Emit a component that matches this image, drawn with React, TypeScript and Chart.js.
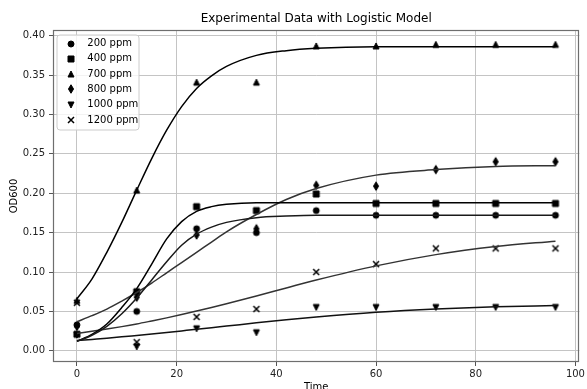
import React, { useEffect, useRef } from "react";
import { Chart, registerables } from "chart.js";

Chart.register(...registerables);

// ---- data ----
const times = [0, 12, 24, 36, 48, 60, 72, 84, 96];
const seriesLabels = ["200 ppm", "400 ppm", "700 ppm", "800 ppm", "1000 ppm", "1200 ppm"];

const od200 = [0.033, 0.05, 0.155, 0.15, 0.178, 0.172, 0.172, 0.172, 0.172];
const od400 = [0.021, 0.075, 0.183, 0.178, 0.199, 0.187, 0.187, 0.187, 0.187];
const od700 = [0.064, 0.204, 0.341, 0.341, 0.387, 0.387, 0.389, 0.389, 0.389];
const od800 = [0.031, 0.068, 0.147, 0.155, 0.21, 0.209, 0.23, 0.24, 0.24];
const od1000 = [0.02, 0.005, 0.028, 0.023, 0.055, 0.055, 0.055, 0.055, 0.055];
const od1200 = [0.061, 0.011, 0.043, 0.053, 0.1, 0.11, 0.13, 0.13, 0.13];

// logistic model curves
const curveTimes = [0, 3, 6, 9, 12, 15, 18, 21, 24, 27, 30, 36, 42, 48, 60, 72, 84, 96];
const fit200 = [0.012, 0.0196, 0.031, 0.047, 0.067, 0.09, 0.113, 0.134, 0.148, 0.157, 0.163, 0.169, 0.171, 0.172, 0.172, 0.172, 0.172, 0.172];
const fit400 = [0.012, 0.0208, 0.034, 0.055, 0.079, 0.11, 0.142, 0.164, 0.177, 0.183, 0.186, 0.188, 0.188, 0.188, 0.188, 0.188, 0.188, 0.188];
const fit700 = [0.066, 0.091, 0.125, 0.163, 0.204, 0.244, 0.28, 0.31, 0.333, 0.349, 0.361, 0.375, 0.381, 0.384, 0.386, 0.386, 0.386, 0.386];
const fit800 = [0.037, 0.0446, 0.053, 0.0631, 0.074, 0.086, 0.099, 0.112, 0.125, 0.138, 0.151, 0.173, 0.192, 0.206, 0.223, 0.23, 0.234, 0.235];
const fit1000 = [0.013, 0.0145, 0.016, 0.0177, 0.0195, 0.0213, 0.0233, 0.0253, 0.0273, 0.0294, 0.0314, 0.0355, 0.0394, 0.0429, 0.0488, 0.053, 0.0558, 0.0575];
const fit1200 = [0.022, 0.0247, 0.0276, 0.0307, 0.0341, 0.0379, 0.0418, 0.046, 0.0504, 0.055, 0.0598, 0.0697, 0.0798, 0.0898, 0.1078, 0.1221, 0.1324, 0.1392];

const xTicks = [0, 20, 40, 60, 80, 100];
const yTicks = [0, 0.05, 0.1, 0.15, 0.2, 0.25, 0.3, 0.35, 0.4];

const chartTitle = "Experimental Data with Logistic Model";
const xTitle = "Time";
const yTitle = "OD600";

// ---- styles ----
const FONT = "'DejaVu Sans', 'Liberation Sans', sans-serif";
const markerKinds = ["o", "s", "^", "d", "v", "x"];
const lineColors = ["#1a1a1a", "#000000", "#000000", "#333333", "#111111", "#333333"];

function makeMarker(kind: string): HTMLCanvasElement {
  const c = document.createElement("canvas");
  c.width = 14;
  c.height = 14;
  const g = c.getContext("2d")!;
  const m = 7;
  g.fillStyle = "#000";
  g.strokeStyle = "#000";
  g.lineWidth = 1;
  g.beginPath();
  if (kind === "o") {
    g.arc(m, m, 3, 0, Math.PI * 2);
  } else if (kind === "s") {
    g.rect(m - 3, m - 3, 6, 6);
  } else if (kind === "^") {
    g.moveTo(m, m - 3);
    g.lineTo(m + 3, m + 3);
    g.lineTo(m - 3, m + 3);
    g.closePath();
  } else if (kind === "v") {
    g.moveTo(m, m + 3);
    g.lineTo(m + 3, m - 3);
    g.lineTo(m - 3, m - 3);
    g.closePath();
  } else if (kind === "d") {
    g.moveTo(m, m - 4.25);
    g.lineTo(m + 2.55, m);
    g.lineTo(m, m + 4.25);
    g.lineTo(m - 2.55, m);
    g.closePath();
  }
  if (kind === "x") {
    g.lineWidth = 1.5;
    g.moveTo(m - 3, m - 3);
    g.lineTo(m + 3, m + 3);
    g.moveTo(m - 3, m + 3);
    g.lineTo(m + 3, m - 3);
    g.stroke();
  } else {
    g.fill();
    g.stroke();
  }
  return c;
}

export default function App() {
  const ref = useRef<HTMLCanvasElement | null>(null);

  useEffect(() => {
    if (!ref.current) return;
    const markers = markerKinds.map(makeMarker);
    const odSeries = [od200, od400, od700, od800, od1000, od1200];
    const fitSeries = [fit200, fit400, fit700, fit800, fit1000, fit1200];

    const datasets: any[] = [];
    fitSeries.forEach((fit, i) => {
      datasets.push({
        label: seriesLabels[i] + " model",
        data: curveTimes.map((t, j) => ({ x: t, y: fit[j] })),
        showLine: true,
        borderColor: lineColors[i],
        borderWidth: 1.5,
        pointRadius: 0,
        pointHoverRadius: 0,
        cubicInterpolationMode: "monotone",
        tension: 0.4,
        fill: false,
      });
    });
    odSeries.forEach((vals, i) => {
      datasets.push({
        label: seriesLabels[i],
        data: times.map((t, j) => ({ x: t, y: vals[j] })),
        showLine: false,
        pointStyle: markers[i],
        pointRadius: 4,
        backgroundColor: "#000",
        borderColor: "#000",
      });
    });

    const overlay = {
      id: "overlay",
      afterDraw(chart: any) {
        const { ctx, chartArea: a } = chart;
        ctx.save();
        // frame (spines)
        ctx.strokeStyle = "#6e6e6e";
        ctx.lineWidth = 1.2;
        ctx.strokeRect(
          Math.round(a.left) + 0.5,
          Math.round(a.top) + 0.5,
          Math.round(a.right - a.left) - 1,
          Math.round(a.bottom - a.top) - 1
        );
        // title
        ctx.fillStyle = "#000";
        ctx.textAlign = "center";
        ctx.textBaseline = "middle";
        ctx.font = `12px ${FONT}`;
        const cx = (a.left + a.right) / 2;
        ctx.fillText(chartTitle, cx, 19);
        // axis titles
        ctx.font = `10px ${FONT}`;
        ctx.textBaseline = "top";
        ctx.fillText(xTitle, cx, 382);
        ctx.save();
        ctx.translate(14, (a.top + a.bottom) / 2);
        ctx.rotate(-Math.PI / 2);
        ctx.textBaseline = "middle";
        ctx.fillText(yTitle, 0, 0);
        ctx.restore();
        // legend
        const lx = 57, ly = 35, lw = 82, lh = 95, r = 3;
        ctx.beginPath();
        ctx.moveTo(lx + r, ly);
        ctx.lineTo(lx + lw - r, ly);
        ctx.quadraticCurveTo(lx + lw, ly, lx + lw, ly + r);
        ctx.lineTo(lx + lw, ly + lh - r);
        ctx.quadraticCurveTo(lx + lw, ly + lh, lx + lw - r, ly + lh);
        ctx.lineTo(lx + r, ly + lh);
        ctx.quadraticCurveTo(lx, ly + lh, lx, ly + lh - r);
        ctx.lineTo(lx, ly + r);
        ctx.quadraticCurveTo(lx, ly, lx + r, ly);
        ctx.closePath();
        ctx.fillStyle = "rgba(255,255,255,0.8)";
        ctx.fill();
        ctx.strokeStyle = "#cccccc";
        ctx.lineWidth = 1;
        ctx.stroke();
        ctx.font = `10px ${FONT}`;
        ctx.textAlign = "left";
        ctx.textBaseline = "middle";
        ctx.fillStyle = "#000";
        seriesLabels.forEach((lab, i) => {
          const y = 43.5 + i * 15.3;
          const mk = markers[i];
          ctx.drawImage(mk, Math.round(70.7 - mk.width / 2), Math.round(y - mk.height / 2));
          ctx.fillText(lab, 87.3, y);
        });
        ctx.restore();
      },
    };

    const chart = new Chart(ref.current, {
      type: "scatter",
      data: { datasets },
      plugins: [overlay],
      options: {
        animation: false,
        responsive: false,
        devicePixelRatio: 1,
        layout: { padding: { left: 0, right: 3, top: 30, bottom: 0 } },
        plugins: {
          legend: { display: false },
          title: { display: false },
          tooltip: { enabled: false },
        },
        scales: {
          x: {
            type: "linear",
            min: -4.8,
            max: 100.8,
            afterFit: (s: any) => {
              s.height = 27;
            },
            afterBuildTicks: (s: any) => {
              s.ticks = xTicks.map((v) => ({ value: v }));
            },
            border: { display: false },
            grid: {
              color: "#c4c4c4",
              lineWidth: 1,
              drawTicks: true,
              tickLength: 4,
              tickColor: "#555",
              tickWidth: 1,
            },
            ticks: {
              color: "#222",
              font: { family: FONT, size: 10 },
              padding: 2,
              maxRotation: 0,
              callback: (v: any) => String(v),
            },
          },
          y: {
            type: "linear",
            min: -0.0142,
            max: 0.4072,
            afterFit: (s: any) => {
              s.width = 53;
            },
            afterBuildTicks: (s: any) => {
              s.ticks = yTicks.map((v) => ({ value: v }));
            },
            border: { display: false },
            grid: {
              color: "#c4c4c4",
              lineWidth: 1,
              drawTicks: true,
              tickLength: 4,
              tickColor: "#555",
              tickWidth: 1,
            },
            ticks: {
              color: "#222",
              font: { family: FONT, size: 10 },
              padding: 4,
              callback: (v: any) => Number(v).toFixed(2),
            },
          },
        },
      },
    });
    return () => chart.destroy();
  }, []);

  return (
    <div style={{ position: "absolute", left: 0, top: 0, width: 587, height: 389, background: "#fff" }}>
      <canvas ref={ref} width={587} height={389} style={{ display: "block" }} />
    </div>
  );
}
